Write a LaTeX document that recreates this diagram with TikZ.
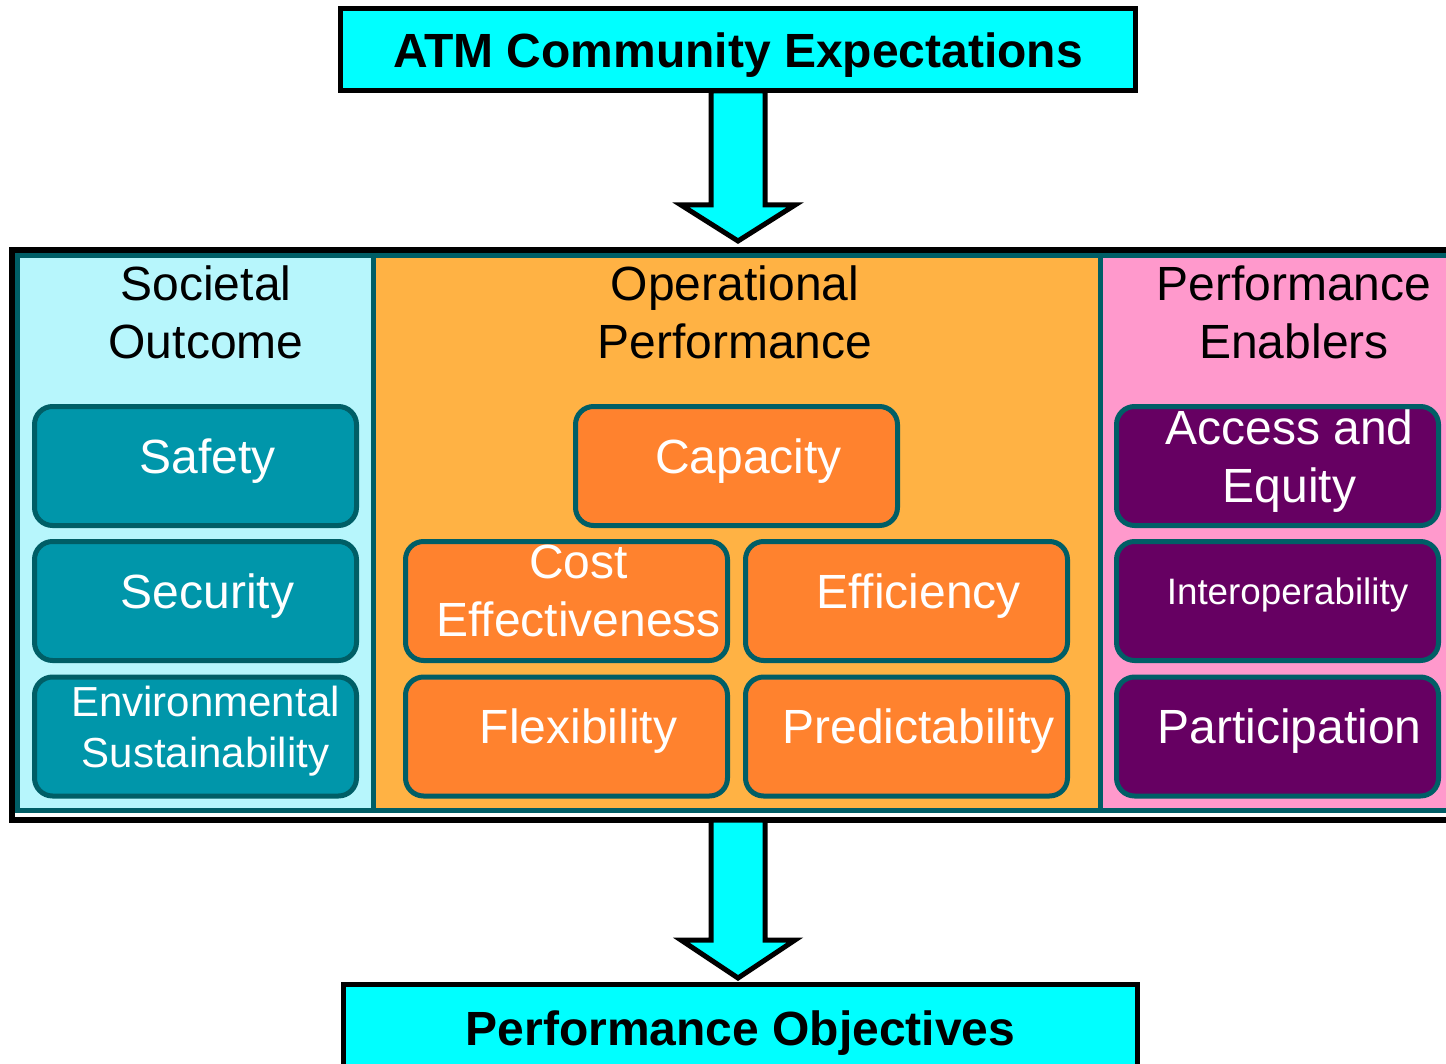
\documentclass[tikz,border=0pt]{standalone}
\usepackage{fontspec}
\setmainfont{Liberation Sans}
\definecolor{atmcyan}{RGB}{0,255,255}
\definecolor{panelline}{RGB}{0,94,102}
\definecolor{societal}{RGB}{183,246,252}
\definecolor{operational}{RGB}{255,178,68}
\definecolor{enablers}{RGB}{255,153,204}
\definecolor{outcomebox}{RGB}{0,150,170}
\definecolor{perfbox}{RGB}{255,130,46}
\definecolor{enablerbox}{RGB}{102,0,98}

\begin{document}
\begin{tikzpicture}[
        x=0.5pt, y=-0.5pt,
        heading/.style={draw=black, line width=2.5pt, fill=atmcyan, outer sep=0pt, minimum width=397.5pt, minimum height=41.25pt, text depth=0pt, font=\fontsize{24}{29}\selectfont\bfseries},
        outerframe/.style={draw=black, line width=3pt, fill=white, outer sep=0pt, minimum width=726pt, minimum height=285pt},
        panel/.style={draw=panelline, line width=2.5pt, minimum height=277.25pt},
        title/.style={align=center, text depth=0pt, font=\fontsize{24}{29}\selectfont},
        box/.style={draw=panelline, line width=2.5pt, rounded corners=9pt, minimum width=161pt, minimum height=59.5pt},
        outcome/.style={box, fill=outcomebox},
        perf/.style={box, fill=perfbox},
        enabler/.style={box, fill=enablerbox},
        boxtext/.style={text=white, align=center, text depth=0pt, xshift=6pt, yshift=5pt, font=\fontsize{24}{29}\selectfont},
        bigarrow/.style={draw=black, fill=atmcyan, line width=2.5pt, line join=miter}
    ]
        \useasboundingbox (0,0) rectangle (1446,1064);
        \clip (0,0) rectangle (1446,1064);

        \node[heading] (atm) at (738,49.75) {ATM Community Expectations};

        \node[outerframe] (frame) at (738,535) {};
        \node[panel, fill=societal, minimum width=178pt] (societal) at (195.5,533.25) {};
        \node[panel, fill=operational, minimum width=363.25pt] (operational) at (736.75,533.25) {};
        \node[panel, fill=enablers, minimum width=185pt] (enablers) at (1285,533.25) {};

        \node[title] (societal-title) at (206,312.5) {Societal\\Outcome};
        \node[title] (operational-title) at (735,312.5) {Operational\\Performance};
        \node[title] (enablers-title) at (1294,312.5) {Performance\\Enablers};

        \node[outcome, label={[boxtext]center:Safety}] (safety) at (195.5,466) {};
        \node[outcome, label={[boxtext]center:Security}] (security) at (195.5,601) {};
        \node[outcome, label={[boxtext, xshift=-1pt, font=\fontsize{21}{25.5}\selectfont]center:Environmental\\Sustainability}] (environment) at (195.5,736.5) {};

        \node[perf, label={[boxtext]center:Capacity}] (capacity) at (736.5,466) {};
        \node[perf, label={[boxtext]center:Cost\\Effectiveness}] (cost) at (566.5,601) {};
        \node[perf, label={[boxtext]center:Efficiency}] (efficiency) at (906.5,601) {};
        \node[perf, label={[boxtext]center:Flexibility}] (flexibility) at (566.5,736.5) {};
        \node[perf, label={[boxtext]center:Predictability}] (predictability) at (906.5,736.5) {};

        \node[enabler, label={[boxtext]center:Access and\\Equity}] (access) at (1277.5,466) {};
        \node[enabler, label={[boxtext, xshift=-1pt, font=\fontsize{18.4}{22}\selectfont]center:Interoperability}] (interop) at (1277.5,601) {};
        \node[enabler, label={[boxtext]center:Participation}] (participation) at (1277.5,736.5) {};

        \node[heading, minimum width=397pt, minimum height=43.5pt] (objectives) at (740.5,1028) {Performance Objectives};

        \draw[bigarrow] ([xshift=-13.5pt]atm.south) -- ++(0,114) -- ++(-30,0) -- ++(57,36) -- ++(57,-36) -- ++(-30,0) -- ++(0,-114) -- cycle;
        \draw[bigarrow] ([xshift=-13.5pt]frame.south) -- ++(0,120) -- ++(-30,0) -- ++(57,38) -- ++(57,-38) -- ++(-30,0) -- ++(0,-120) -- cycle;
    \end{tikzpicture}
\end{document}
